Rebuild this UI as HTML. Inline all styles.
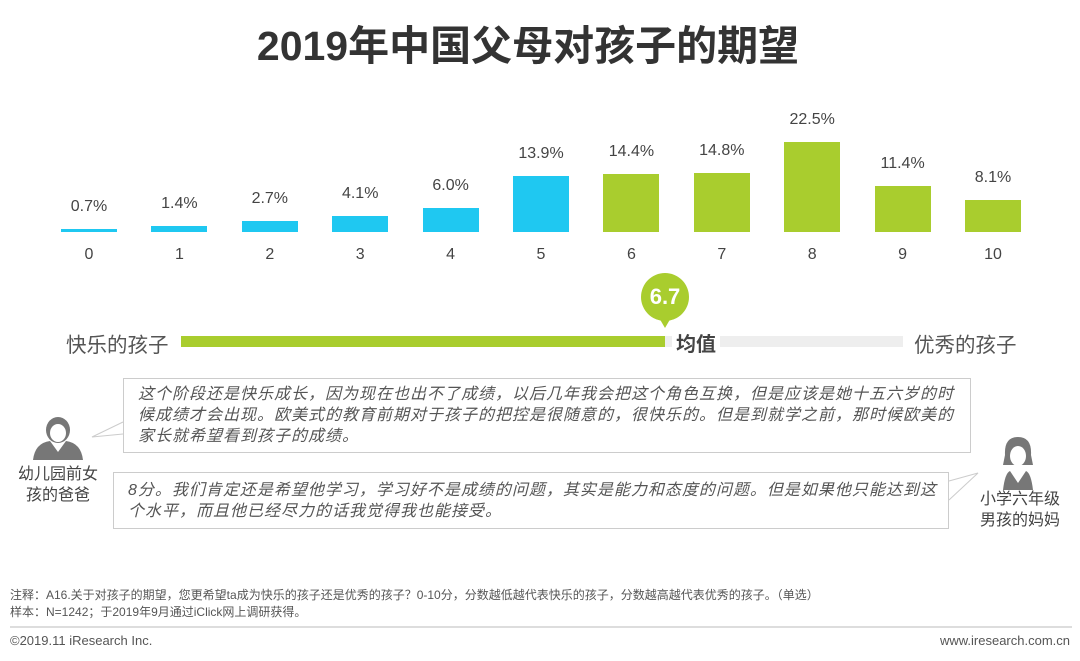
<!DOCTYPE html><html><head><meta charset="utf-8"><style>
body{margin:0;width:1080px;height:661px;background:#fff;position:relative;overflow:hidden;font-family:"Liberation Sans","Noto Sans CJK SC",sans-serif;color:#444}
.a{position:absolute;white-space:nowrap}
.bar{position:absolute;width:56px}
.v{position:absolute;width:90px;text-align:center;font-size:16px;color:#444}
.x{position:absolute;width:90px;text-align:center;font-size:16px;color:#444;top:246px}
.q{position:absolute;border:1px solid #ccc;background:#fff;font-style:italic;font-size:16px;letter-spacing:1px;line-height:21px;color:#555;padding:4px 14px;box-sizing:border-box;white-space:nowrap}
</style></head><body>
<div class="a" style="left:0;width:1056px;text-align:center;top:12px;font-size:41px;font-weight:bold;color:#333">2019年中国父母对孩子的期望</div>
<div id="c"></div>
<script>
(function(){var v=[0.7,1.4,2.7,4.1,6.0,13.9,14.4,14.8,22.5,11.4,8.1],h="";
for(var i=0;i<11;i++){var cx=89+i*90.4,hh=Math.max(v[i]*4,3),ty=232-hh,col=i<6?'#1fc8f1':'#a9cd2e';
h+='<div class="bar" style="left:'+(cx-28)+'px;top:'+ty+'px;height:'+hh+'px;background:'+col+'"></div>';
h+='<div class="v" style="left:'+(cx-45)+'px;top:'+(ty-31)+'px">'+v[i].toFixed(1)+'%</div>';
h+='<div class="x" style="left:'+(cx-45)+'px">'+i+'</div>';}
document.getElementById('c').innerHTML=h;})();
</script>
<div class="a" style="left:66px;top:328px;font-size:20.5px;color:#555">快乐的孩子</div>
<div class="a" style="left:181px;top:336px;width:484px;height:11px;background:#a9cd2e"></div>
<div class="a" style="left:665px;top:336px;width:238px;height:11px;background:#eee"></div>
<div class="a" style="left:641px;top:273px;width:48px;height:48px;border-radius:50%;background:#a9cd2e;color:#fff;font-weight:bold;font-size:22px;text-align:center;line-height:48px">6.7</div>
<div class="a" style="left:658px;top:316px;width:0;height:0;border-left:7px solid transparent;border-right:7px solid transparent;border-top:12px solid #a9cd2e"></div>
<div class="a" style="left:672px;top:328px;font-size:20px;font-weight:bold;color:#444;background:#fff;padding:0 4px">均值</div>
<div class="a" style="left:914px;top:328px;font-size:20.5px;color:#555">优秀的孩子</div>
<div class="q" style="left:123px;top:378px;width:848px;height:75px;padding-top:5px">这个阶段还是快乐成长，因为现在也出不了成绩，以后几年我会把这个角色互换，但是应该是她十五六岁的时<br>候成绩才会出现。欧美式的教育前期对于孩子的把控是很随意的，很快乐的。但是到就学之前，那时候欧美的<br>家长就希望看到孩子的成绩。</div>
<div class="q" style="left:113px;top:472px;width:836px;height:57px;padding-top:7px">8分。我们肯定还是希望他学习，学习好不是成绩的问题，其实是能力和态度的问题。但是如果他只能达到这<br>个水平，而且他已经尽力的话我觉得我也能接受。</div>
<svg class="a" style="left:0;top:0" width="1080" height="661">
<polyline points="123,422 92,437 123,434" fill="#fff" stroke="#ccc"/>
<polyline points="949,481 978,473 949,500" fill="#fff" stroke="#ccc"/>
<g fill="#777"><ellipse cx="58" cy="430" rx="12" ry="13"/><path d="M33,460 Q35,443 50,441 L58,452 L66,441 Q81,443 83,460Z"/>
<path d="M1018,437 Q1004,437 1005,455 L1003,465 L1033,465 L1031,455 Q1032,437 1018,437Z"/><path d="M1003,490 Q1005,473 1010,471 L1018,483 L1026,471 Q1031,473 1033,490Z"/></g>
<ellipse cx="58" cy="433" rx="8" ry="9" fill="#fff"/><ellipse cx="1018" cy="456" rx="8" ry="10" fill="#fff"/>
<line x1="10" y1="627" x2="1072" y2="627" stroke="#bbb"/>
</svg>
<div class="a" style="left:8px;top:464px;width:100px;text-align:center;font-size:16px;line-height:21px;color:#444">幼儿园前女<br>孩的爸爸</div>
<div class="a" style="left:970px;top:489px;width:100px;text-align:center;font-size:16px;line-height:21px;color:#444">小学六年级<br>男孩的妈妈</div>
<div class="a" style="left:10px;top:587px;font-size:12px;line-height:17px;color:#555">注释：A16.关于对孩子的期望，您更希望ta成为快乐的孩子还是优秀的孩子？0-10分，分数越低越代表快乐的孩子，分数越高越代表优秀的孩子。（单选）<br>样本：N=1242；于2019年9月通过iClick网上调研获得。</div>
<div class="a" style="left:10px;top:633px;font-size:13px;color:#555">©2019.11 iResearch Inc.</div>
<div class="a" style="right:10px;top:633px;font-size:13px;color:#555">www.iresearch.com.cn</div>
</body></html>
